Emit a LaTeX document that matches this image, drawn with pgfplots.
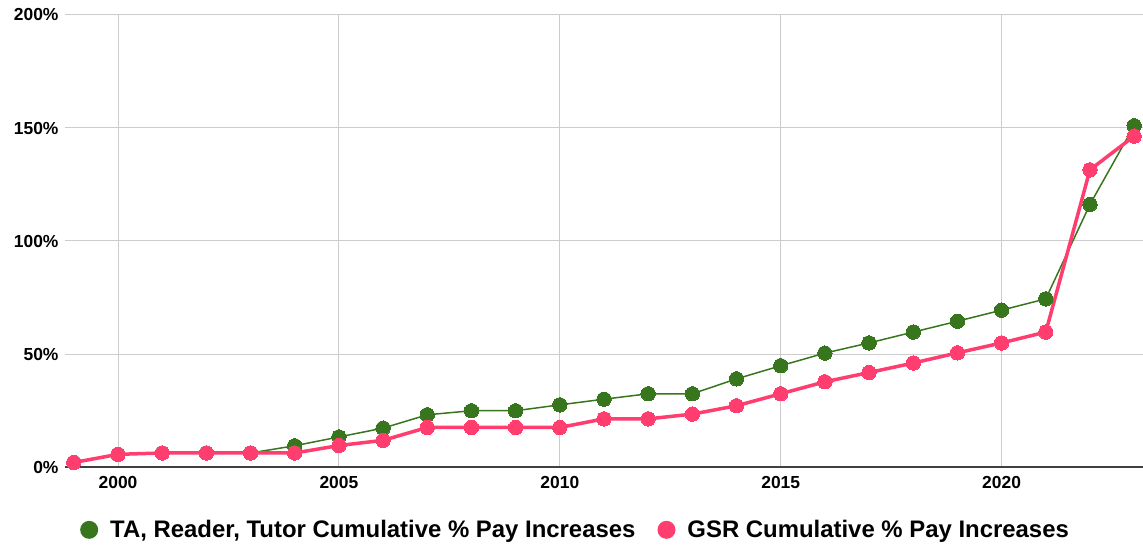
\documentclass[border=0pt]{standalone}
\usepackage{fontspec}
\setmainfont{Liberation Sans}
\usepackage{pgfplots}
\pgfplotsset{compat=1.18}
\definecolor{tagreen}{HTML}{38761D}
\definecolor{gsrpink}{HTML}{FF3D6E}
\begin{document}
\begin{tikzpicture}
\begin{axis}[
  name=ax,
  scale only axis,
  width=1078bp, height=452bp,
  xmin=1998.8, xmax=2023.2,
  ymin=0, ymax=200,
  xtick={2000,2005,2010,2015,2020},
  ytick={0,50,100,150,200},
  xticklabel style={/pgf/number format/1000 sep={}},
  yticklabel={\pgfmathprintnumber{\tick}\%},
  /pgf/number format/assume math mode=true,
  tick label style={font=\bfseries\fontsize{17.5}{20}\selectfont, text=black},
  xticklabel style={yshift=-6bp},
  yticklabel style={xshift=-3bp},
  axis x line=bottom,
  axis y line=left,
  x axis line style={-, draw=black!75, line width=1.2bp},
  y axis line style={draw=none},
  major tick length=0pt,
  grid=major,
  major grid style={draw=black!20, line width=1bp},
  clip=false,
  legend style={at={(0.4736,-0.139)}, anchor=center, draw=none, fill=none,
    font=\bfseries\fontsize{24}{28}\selectfont,
    /tikz/every even column/.append style={column sep=20bp}},
  legend columns=2,
  legend cell align=left,
]
\addplot[color=tagreen, line width=1.5bp, mark=*, mark size=7.2bp, mark options={fill=tagreen, draw=tagreen, line width=0pt},
  legend image code/.code={\fill[tagreen, draw=none] (9bp,0bp) circle (9bp); \path[draw=none, fill=none] (0bp,0bp) -- (28bp,0bp);}]
coordinates {
(1999,2.0) (2000,5.6) (2001,6.2) (2002,6.2) (2003,6.2) (2004,9.4) (2005,13.3) (2006,17.2)
(2007,23.1) (2008,24.9) (2009,24.9) (2010,27.5) (2011,30.0) (2012,32.4) (2013,32.4)
(2014,39.0) (2015,44.8) (2016,50.4) (2017,54.9) (2018,59.7) (2019,64.5) (2020,69.4)
(2021,74.4) (2022,116.2) (2023,151.0)
};
\addlegendentry{TA, Reader, Tutor Cumulative \% Pay Increases}
\addplot[color=gsrpink, line width=3.5bp, mark=*, mark size=7.2bp, mark options={fill=gsrpink, draw=gsrpink, line width=0pt},
  legend image code/.code={\fill[gsrpink, draw=none] (9bp,0bp) circle (9bp); \path[draw=none, fill=none] (0bp,0bp) -- (28bp,0bp);}]
coordinates {
(1999,2.0) (2000,5.6) (2001,6.2) (2002,6.2) (2003,6.2) (2004,6.2) (2005,9.5) (2006,11.8)
(2007,17.5) (2008,17.5) (2009,17.5) (2010,17.5) (2011,21.3) (2012,21.3) (2013,23.4)
(2014,27.1) (2015,32.4) (2016,37.7) (2017,41.8) (2018,46.0) (2019,50.5) (2020,54.9)
(2021,59.7) (2022,131.5) (2023,146.4)
};
\addlegendentry{GSR Cumulative \% Pay Increases}
\end{axis}
\pgfresetboundingbox
\path[use as bounding box] ([shift={(-65bp,-84bp)}]ax.south west) rectangle ++(1143bp,551bp);
\end{tikzpicture}
\end{document}
